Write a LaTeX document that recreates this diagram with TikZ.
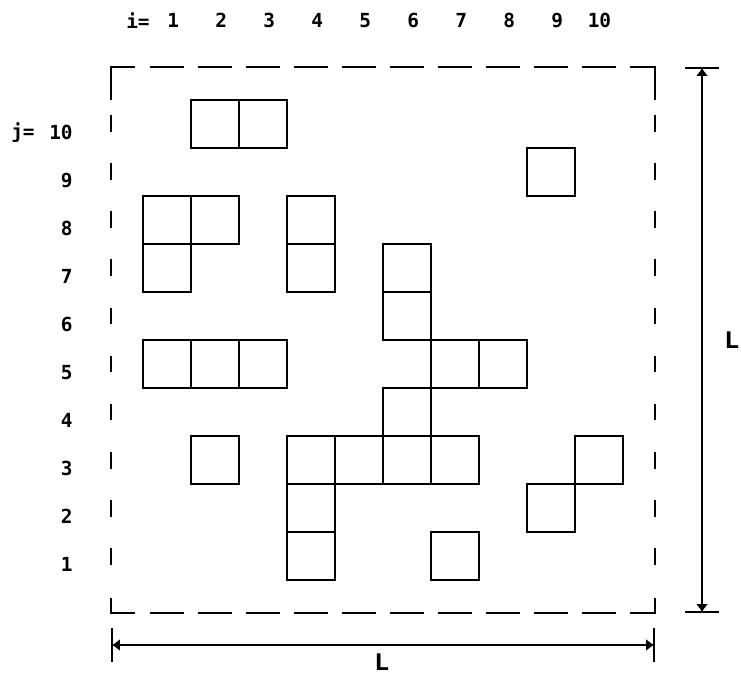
\documentclass[tikz,border=0pt]{standalone}
\usepackage{fontspec}
\setmonofont{DejaVu Sans Mono}
\newfontfamily\lenfont{Liberation Mono}
\usepackage{tikz}
\usetikzlibrary{arrows.meta}

\begin{document}
\begin{tikzpicture}[x=1cm,y=1cm,
 cell/.style={draw,line width=1.4pt},
 edge/.style={line width=1.4pt},
 lbl/.style={inner sep=0pt,font=\ttfamily\bfseries\fontsize{11.5}{13}\selectfont},
 dim/.style={inner sep=0pt,font=\lenfont\bfseries\fontsize{15}{17}\selectfont},
 ar/.style={line width=1pt,{Bar[width=0.69cm]Triangle[length=1.5mm,width=2.2mm]}-{Triangle[length=1.5mm,width=2.2mm]Bar[width=0.69cm]}}]
\useasboundingbox (-2.979,-1.979) rectangle (12.458,12.083);
% occupied sites
\foreach \i/\j in {2/10,3/10,9/9,1/8,2/8,4/8,1/7,4/7,6/7,6/6,1/5,2/5,3/5,7/5,8/5,6/4,
 2/3,4/3,5/3,6/3,7/3,10/3,4/2,9/2,4/1,7/1}
 \draw[cell] (\i-1,\j-1) rectangle ++(1,1);
% dashed border
\foreach \k in {1,...,10} {
 \draw[edge] (\k-0.85,10.6875) -- (\k-0.15,10.6875);
 \draw[edge] (\k-0.85,-0.6875) -- (\k-0.15,-0.6875);
 \draw[edge] (-0.667,\k-0.677) -- (-0.667,\k-0.323);
 \draw[edge] (10.667,\k-0.677) -- (10.667,\k-0.323);
}
\draw[edge] (-0.167,10.6875) -- (-0.667,10.6875) -- (-0.667,10);
\draw[edge] (10.146,10.6875) -- (10.667,10.6875) -- (10.667,10);
\draw[edge] (-0.167,-0.6875) -- (-0.667,-0.6875) -- (-0.667,-0.375);
\draw[edge] (10.146,-0.6875) -- (10.667,-0.6875) -- (10.667,-0.375);
% indices
\node[lbl,anchor=east] (ieq) at (0.146,11.65) {i=};
\foreach \i in {1,...,10}
 \node[lbl,anchor=east] (col\i) at (\i-0.24,11.65) {\i};
\node[lbl,anchor=east] (jeq) at (-2.25,9.32) {j=};
\foreach \j in {1,...,10}
 \node[lbl,anchor=east] (row\j) at (-1.458,\j-0.68) {\j};
% system size
\coordinate (vtop) at (11.646,10.6875);
\coordinate (vbot) at (11.646,-0.6875);
\coordinate (hleft) at (-0.667,-1.354);
\coordinate (hright) at (10.667,-1.354);
\draw[ar] (vtop) -- (vbot);
\draw[ar] (hleft) -- (hright);
\node[dim] (lv) at (12.27,5.0) {L};
\node[dim] (lh) at (4.98,-1.71) {L};
\end{tikzpicture}
\end{document}
